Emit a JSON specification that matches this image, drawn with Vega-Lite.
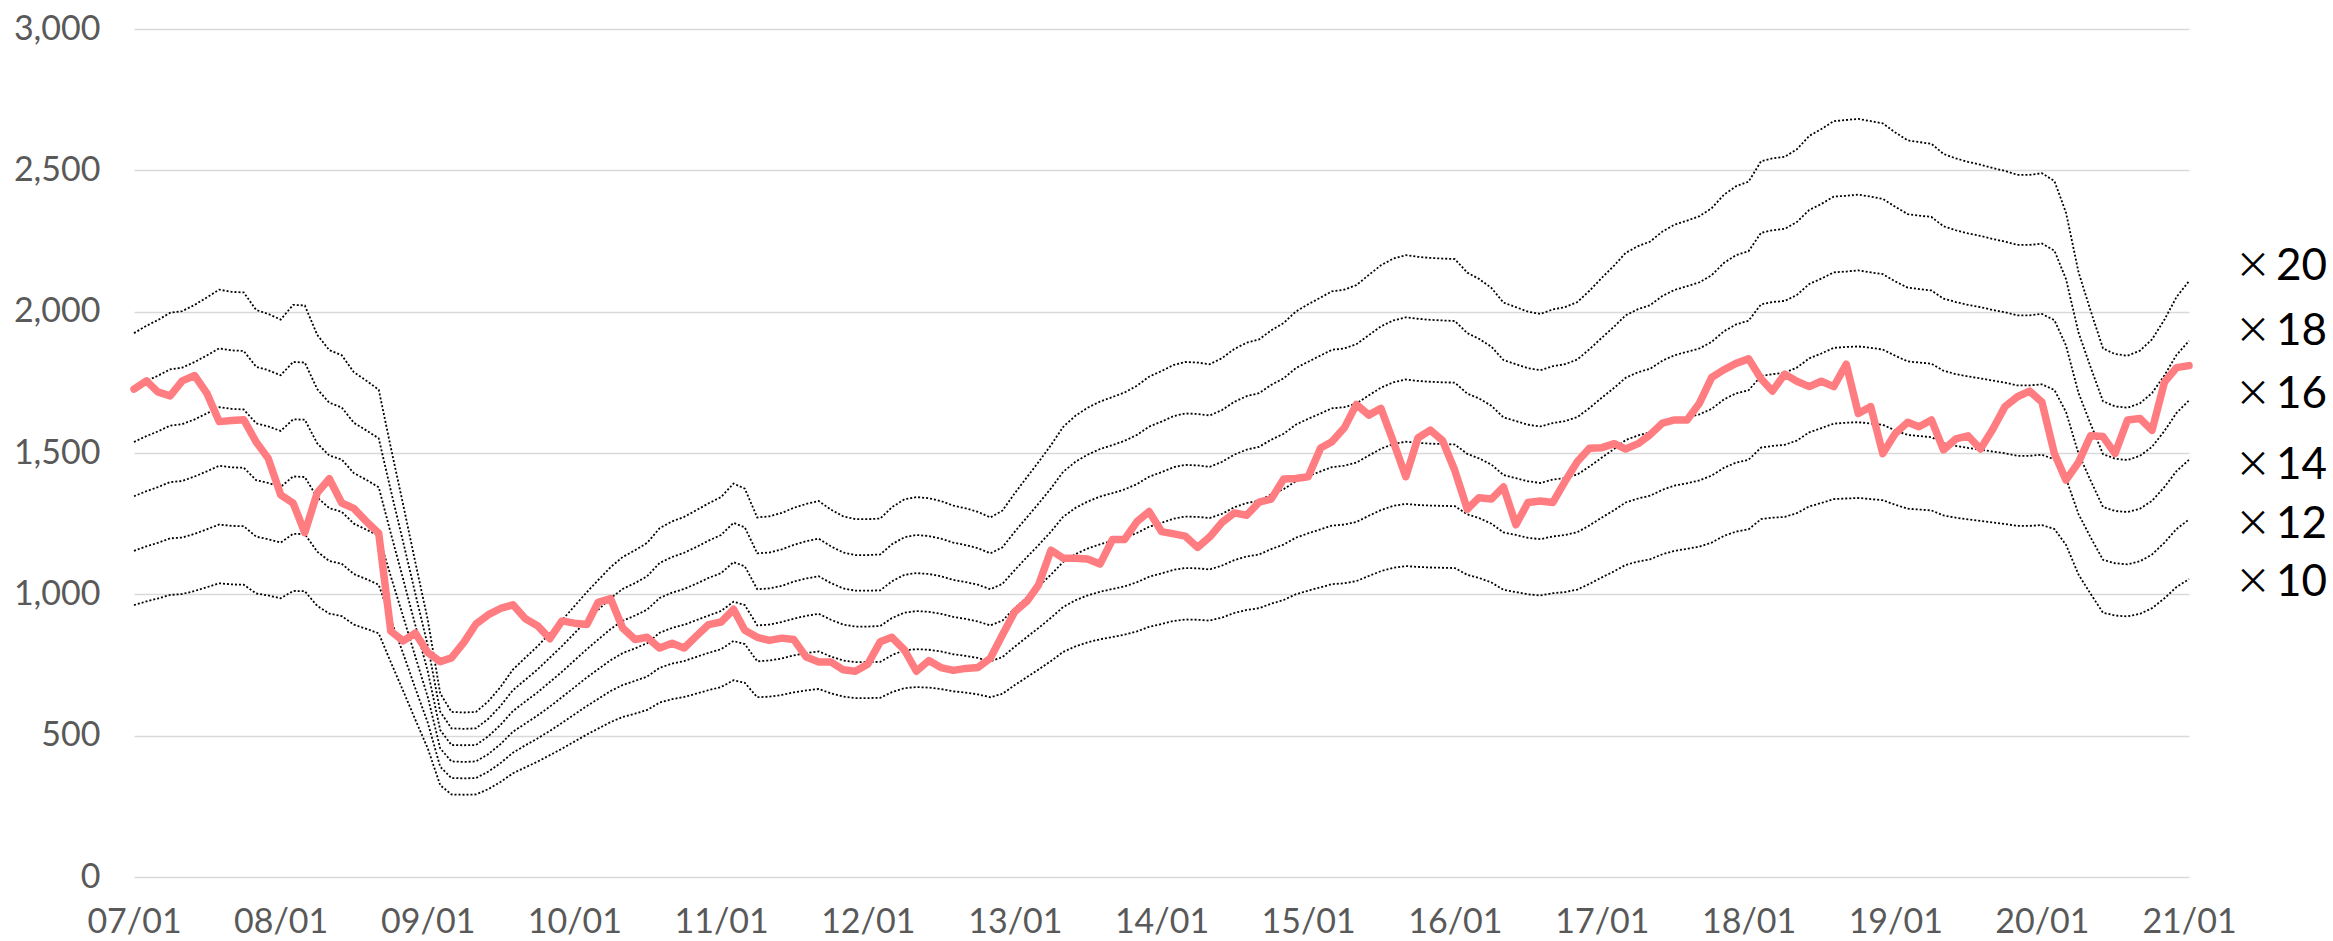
{
"$schema": "https://vega.github.io/schema/vega-lite/v6.json",
"width": 2055, "height": 848,
"autosize": {"type": "none"},
"padding": {"left": 134, "top": 29, "right": 144, "bottom": 64},
"background": "white",
"config": {"view": {"stroke": null}, "font": "Lato"},
"datasets": {
"main": [
{"d":"2007-01","p":1726,"x10":962,"x12":1154,"x14":1347,"x16":1539,"x18":1732,"x20":1924},
{"d":"2007-02","p":1755,"x10":975,"x12":1170,"x14":1365,"x16":1560,"x18":1755,"x20":1950},
{"d":"2007-03","p":1716,"x10":985,"x12":1182,"x14":1379,"x16":1576,"x18":1773,"x20":1970},
{"d":"2007-04","p":1702,"x10":998,"x12":1198,"x14":1397,"x16":1597,"x18":1796,"x20":1996},
{"d":"2007-05","p":1755,"x10":1001,"x12":1201,"x14":1401,"x16":1602,"x18":1802,"x20":2002},
{"d":"2007-06","p":1774,"x10":1012,"x12":1214,"x14":1417,"x16":1619,"x18":1822,"x20":2024},
{"d":"2007-07","p":1712,"x10":1025,"x12":1230,"x14":1435,"x16":1640,"x18":1845,"x20":2050},
{"d":"2007-08","p":1611,"x10":1039,"x12":1247,"x14":1455,"x16":1662,"x18":1870,"x20":2078},
{"d":"2007-09","p":1615,"x10":1035,"x12":1242,"x14":1449,"x16":1656,"x18":1863,"x20":2070},
{"d":"2007-10","p":1618,"x10":1034,"x12":1241,"x14":1448,"x16":1654,"x18":1861,"x20":2068},
{"d":"2007-11","p":1539,"x10":1003,"x12":1204,"x14":1404,"x16":1605,"x18":1805,"x20":2006},
{"d":"2007-12","p":1481,"x10":996,"x12":1195,"x14":1394,"x16":1594,"x18":1793,"x20":1992},
{"d":"2008-01","p":1352,"x10":986,"x12":1183,"x14":1380,"x16":1578,"x18":1775,"x20":1972},
{"d":"2008-02","p":1323,"x10":1012,"x12":1214,"x14":1417,"x16":1619,"x18":1822,"x20":2024},
{"d":"2008-03","p":1218,"x10":1011,"x12":1213,"x14":1415,"x16":1618,"x18":1820,"x20":2022},
{"d":"2008-04","p":1359,"x10":959,"x12":1151,"x14":1343,"x16":1534,"x18":1726,"x20":1918},
{"d":"2008-05","p":1409,"x10":932,"x12":1118,"x14":1305,"x16":1491,"x18":1678,"x20":1864},
{"d":"2008-06","p":1323,"x10":923,"x12":1108,"x14":1292,"x16":1477,"x18":1661,"x20":1846},
{"d":"2008-07","p":1304,"x10":893,"x12":1072,"x14":1250,"x16":1429,"x18":1607,"x20":1786},
{"d":"2008-08","p":1258,"x10":878,"x12":1054,"x14":1229,"x16":1405,"x18":1580,"x20":1756},
{"d":"2008-09","p":1216,"x10":862,"x12":1034,"x14":1207,"x16":1379,"x18":1552,"x20":1724},
{"d":"2008-10","p":870,"x10":760,"x12":912,"x14":1064,"x16":1216,"x18":1368,"x20":1520},
{"d":"2008-11","p":835,"x10":658,"x12":790,"x14":921,"x16":1053,"x18":1184,"x20":1316},
{"d":"2008-12","p":863,"x10":557,"x12":668,"x14":780,"x16":891,"x18":1003,"x20":1114},
{"d":"2009-01","p":794,"x10":455,"x12":546,"x14":637,"x16":728,"x18":819,"x20":910},
{"d":"2009-02","p":762,"x10":325,"x12":390,"x14":455,"x16":520,"x18":585,"x20":650},
{"d":"2009-03","p":775,"x10":292,"x12":350,"x14":409,"x16":467,"x18":526,"x20":584},
{"d":"2009-04","p":830,"x10":291,"x12":349,"x14":407,"x16":466,"x18":524,"x20":582},
{"d":"2009-05","p":895,"x10":292,"x12":350,"x14":409,"x16":467,"x18":526,"x20":584},
{"d":"2009-06","p":928,"x10":311,"x12":373,"x14":435,"x16":498,"x18":560,"x20":622},
{"d":"2009-07","p":950,"x10":336,"x12":403,"x14":470,"x16":538,"x18":605,"x20":672},
{"d":"2009-08","p":963,"x10":367,"x12":440,"x14":514,"x16":587,"x18":661,"x20":734},
{"d":"2009-09","p":914,"x10":388,"x12":466,"x14":543,"x16":621,"x18":698,"x20":776},
{"d":"2009-10","p":889,"x10":408,"x12":490,"x14":571,"x16":653,"x18":734,"x20":816},
{"d":"2009-11","p":843,"x10":431,"x12":517,"x14":603,"x16":690,"x18":776,"x20":862},
{"d":"2009-12","p":906,"x10":454,"x12":545,"x14":636,"x16":726,"x18":817,"x20":908},
{"d":"2010-01","p":898,"x10":479,"x12":575,"x14":671,"x16":766,"x18":862,"x20":958},
{"d":"2010-02","p":893,"x10":504,"x12":605,"x14":706,"x16":806,"x18":907,"x20":1008},
{"d":"2010-03","p":972,"x10":525,"x12":630,"x14":735,"x16":840,"x18":945,"x20":1050},
{"d":"2010-04","p":985,"x10":548,"x12":658,"x14":767,"x16":877,"x18":986,"x20":1096},
{"d":"2010-05","p":881,"x10":566,"x12":679,"x14":792,"x16":906,"x18":1019,"x20":1132},
{"d":"2010-06","p":840,"x10":578,"x12":694,"x14":809,"x16":925,"x18":1040,"x20":1156},
{"d":"2010-07","p":848,"x10":591,"x12":709,"x14":827,"x16":946,"x18":1064,"x20":1182},
{"d":"2010-08","p":810,"x10":617,"x12":740,"x14":864,"x16":987,"x18":1111,"x20":1234},
{"d":"2010-09","p":827,"x10":629,"x12":755,"x14":881,"x16":1006,"x18":1132,"x20":1258},
{"d":"2010-10","p":810,"x10":637,"x12":764,"x14":892,"x16":1019,"x18":1147,"x20":1274},
{"d":"2010-11","p":853,"x10":649,"x12":779,"x14":909,"x16":1038,"x18":1168,"x20":1298},
{"d":"2010-12","p":893,"x10":661,"x12":793,"x14":925,"x16":1058,"x18":1190,"x20":1322},
{"d":"2011-01","p":902,"x10":672,"x12":806,"x14":941,"x16":1075,"x18":1210,"x20":1344},
{"d":"2011-02","p":947,"x10":696,"x12":835,"x14":974,"x16":1114,"x18":1253,"x20":1392},
{"d":"2011-03","p":873,"x10":687,"x12":824,"x14":962,"x16":1099,"x18":1237,"x20":1374},
{"d":"2011-04","p":848,"x10":636,"x12":763,"x14":890,"x16":1018,"x18":1145,"x20":1272},
{"d":"2011-05","p":837,"x10":638,"x12":766,"x14":893,"x16":1021,"x18":1148,"x20":1276},
{"d":"2011-06","p":845,"x10":644,"x12":773,"x14":902,"x16":1030,"x18":1159,"x20":1288},
{"d":"2011-07","p":840,"x10":653,"x12":784,"x14":914,"x16":1045,"x18":1175,"x20":1306},
{"d":"2011-08","p":778,"x10":660,"x12":792,"x14":924,"x16":1056,"x18":1188,"x20":1320},
{"d":"2011-09","p":761,"x10":665,"x12":798,"x14":931,"x16":1064,"x18":1197,"x20":1330},
{"d":"2011-10","p":761,"x10":650,"x12":780,"x14":910,"x16":1040,"x18":1170,"x20":1300},
{"d":"2011-11","p":733,"x10":638,"x12":766,"x14":893,"x16":1021,"x18":1148,"x20":1276},
{"d":"2011-12","p":728,"x10":633,"x12":760,"x14":886,"x16":1013,"x18":1139,"x20":1266},
{"d":"2012-01","p":753,"x10":633,"x12":760,"x14":886,"x16":1013,"x18":1139,"x20":1266},
{"d":"2012-02","p":832,"x10":634,"x12":761,"x14":888,"x16":1014,"x18":1141,"x20":1268},
{"d":"2012-03","p":848,"x10":654,"x12":785,"x14":916,"x16":1046,"x18":1177,"x20":1308},
{"d":"2012-04","p":804,"x10":668,"x12":802,"x14":935,"x16":1069,"x18":1202,"x20":1336},
{"d":"2012-05","p":728,"x10":672,"x12":806,"x14":941,"x16":1075,"x18":1210,"x20":1344},
{"d":"2012-06","p":766,"x10":670,"x12":804,"x14":938,"x16":1072,"x18":1206,"x20":1340},
{"d":"2012-07","p":741,"x10":665,"x12":798,"x14":931,"x16":1064,"x18":1197,"x20":1330},
{"d":"2012-08","p":731,"x10":657,"x12":788,"x14":920,"x16":1051,"x18":1183,"x20":1314},
{"d":"2012-09","p":738,"x10":652,"x12":782,"x14":913,"x16":1043,"x18":1174,"x20":1304},
{"d":"2012-10","p":741,"x10":646,"x12":775,"x14":904,"x16":1034,"x18":1163,"x20":1292},
{"d":"2012-11","p":774,"x10":636,"x12":763,"x14":890,"x16":1018,"x18":1145,"x20":1272},
{"d":"2012-12","p":856,"x10":648,"x12":778,"x14":907,"x16":1037,"x18":1166,"x20":1296},
{"d":"2013-01","p":939,"x10":679,"x12":815,"x14":951,"x16":1086,"x18":1222,"x20":1358},
{"d":"2013-02","p":977,"x10":708,"x12":850,"x14":991,"x16":1133,"x18":1274,"x20":1416},
{"d":"2013-03","p":1033,"x10":734,"x12":881,"x14":1028,"x16":1174,"x18":1321,"x20":1468},
{"d":"2013-04","p":1156,"x10":764,"x12":917,"x14":1070,"x16":1222,"x18":1375,"x20":1528},
{"d":"2013-05","p":1128,"x10":796,"x12":955,"x14":1114,"x16":1274,"x18":1433,"x20":1592},
{"d":"2013-06","p":1128,"x10":816,"x12":979,"x14":1142,"x16":1306,"x18":1469,"x20":1632},
{"d":"2013-07","p":1125,"x10":830,"x12":996,"x14":1162,"x16":1328,"x18":1494,"x20":1660},
{"d":"2013-08","p":1107,"x10":841,"x12":1009,"x14":1177,"x16":1346,"x18":1514,"x20":1682},
{"d":"2013-09","p":1194,"x10":849,"x12":1019,"x14":1189,"x16":1358,"x18":1528,"x20":1698},
{"d":"2013-10","p":1194,"x10":857,"x12":1028,"x14":1200,"x16":1371,"x18":1543,"x20":1714},
{"d":"2013-11","p":1257,"x10":869,"x12":1043,"x14":1217,"x16":1390,"x18":1564,"x20":1738},
{"d":"2013-12","p":1293,"x10":885,"x12":1062,"x14":1239,"x16":1416,"x18":1593,"x20":1770},
{"d":"2014-01","p":1222,"x10":895,"x12":1074,"x14":1253,"x16":1432,"x18":1611,"x20":1790},
{"d":"2014-02","p":1214,"x10":906,"x12":1087,"x14":1268,"x16":1450,"x18":1631,"x20":1812},
{"d":"2014-03","p":1206,"x10":911,"x12":1093,"x14":1275,"x16":1458,"x18":1640,"x20":1822},
{"d":"2014-04","p":1166,"x10":910,"x12":1092,"x14":1274,"x16":1456,"x18":1638,"x20":1820},
{"d":"2014-05","p":1203,"x10":907,"x12":1088,"x14":1270,"x16":1451,"x18":1633,"x20":1814},
{"d":"2014-06","p":1255,"x10":918,"x12":1102,"x14":1285,"x16":1469,"x18":1652,"x20":1836},
{"d":"2014-07","p":1288,"x10":934,"x12":1121,"x14":1308,"x16":1494,"x18":1681,"x20":1868},
{"d":"2014-08","p":1280,"x10":945,"x12":1134,"x14":1323,"x16":1512,"x18":1701,"x20":1890},
{"d":"2014-09","p":1326,"x10":951,"x12":1141,"x14":1331,"x16":1522,"x18":1712,"x20":1902},
{"d":"2014-10","p":1337,"x10":967,"x12":1160,"x14":1354,"x16":1547,"x18":1741,"x20":1934},
{"d":"2014-11","p":1408,"x10":980,"x12":1176,"x14":1372,"x16":1568,"x18":1764,"x20":1960},
{"d":"2014-12","p":1410,"x10":1000,"x12":1200,"x14":1400,"x16":1600,"x18":1800,"x20":2000},
{"d":"2015-01","p":1416,"x10":1013,"x12":1216,"x14":1418,"x16":1621,"x18":1823,"x20":2026},
{"d":"2015-02","p":1518,"x10":1025,"x12":1230,"x14":1435,"x16":1640,"x18":1845,"x20":2050},
{"d":"2015-03","p":1540,"x10":1036,"x12":1243,"x14":1450,"x16":1658,"x18":1865,"x20":2072},
{"d":"2015-04","p":1589,"x10":1039,"x12":1247,"x14":1455,"x16":1662,"x18":1870,"x20":2078},
{"d":"2015-05","p":1672,"x10":1047,"x12":1256,"x14":1466,"x16":1675,"x18":1885,"x20":2094},
{"d":"2015-06","p":1634,"x10":1065,"x12":1278,"x14":1491,"x16":1704,"x18":1917,"x20":2130},
{"d":"2015-07","p":1658,"x10":1082,"x12":1298,"x14":1515,"x16":1731,"x18":1948,"x20":2164},
{"d":"2015-08","p":1540,"x10":1094,"x12":1313,"x14":1532,"x16":1750,"x18":1969,"x20":2188},
{"d":"2015-09","p":1416,"x10":1100,"x12":1320,"x14":1540,"x16":1760,"x18":1980,"x20":2200},
{"d":"2015-10","p":1553,"x10":1097,"x12":1316,"x14":1536,"x16":1755,"x18":1975,"x20":2194},
{"d":"2015-11","p":1581,"x10":1095,"x12":1314,"x14":1533,"x16":1752,"x18":1971,"x20":2190},
{"d":"2015-12","p":1545,"x10":1094,"x12":1313,"x14":1532,"x16":1750,"x18":1969,"x20":2188},
{"d":"2016-01","p":1438,"x10":1093,"x12":1312,"x14":1530,"x16":1749,"x18":1967,"x20":2186},
{"d":"2016-02","p":1301,"x10":1069,"x12":1283,"x14":1497,"x16":1710,"x18":1924,"x20":2138},
{"d":"2016-03","p":1342,"x10":1058,"x12":1270,"x14":1481,"x16":1693,"x18":1904,"x20":2116},
{"d":"2016-04","p":1337,"x10":1042,"x12":1250,"x14":1459,"x16":1667,"x18":1876,"x20":2084},
{"d":"2016-05","p":1380,"x10":1016,"x12":1219,"x14":1422,"x16":1626,"x18":1829,"x20":2032},
{"d":"2016-06","p":1246,"x10":1008,"x12":1210,"x14":1411,"x16":1613,"x18":1814,"x20":2016},
{"d":"2016-07","p":1325,"x10":1000,"x12":1200,"x14":1400,"x16":1600,"x18":1800,"x20":2000},
{"d":"2016-08","p":1330,"x10":996,"x12":1195,"x14":1394,"x16":1594,"x18":1793,"x20":1992},
{"d":"2016-09","p":1325,"x10":1004,"x12":1205,"x14":1406,"x16":1606,"x18":1807,"x20":2008},
{"d":"2016-10","p":1399,"x10":1008,"x12":1210,"x14":1411,"x16":1613,"x18":1814,"x20":2016},
{"d":"2016-11","p":1470,"x10":1017,"x12":1220,"x14":1424,"x16":1627,"x18":1831,"x20":2034},
{"d":"2016-12","p":1517,"x10":1037,"x12":1244,"x14":1452,"x16":1659,"x18":1867,"x20":2074},
{"d":"2017-01","p":1519,"x10":1060,"x12":1272,"x14":1484,"x16":1696,"x18":1908,"x20":2120},
{"d":"2017-02","p":1533,"x10":1082,"x12":1298,"x14":1515,"x16":1731,"x18":1948,"x20":2164},
{"d":"2017-03","p":1514,"x10":1104,"x12":1325,"x14":1546,"x16":1766,"x18":1987,"x20":2208},
{"d":"2017-04","p":1533,"x10":1116,"x12":1339,"x14":1562,"x16":1786,"x18":2009,"x20":2232},
{"d":"2017-05","p":1565,"x10":1124,"x12":1349,"x14":1574,"x16":1798,"x18":2023,"x20":2248},
{"d":"2017-06","p":1606,"x10":1142,"x12":1370,"x14":1599,"x16":1827,"x18":2056,"x20":2284},
{"d":"2017-07","p":1617,"x10":1154,"x12":1385,"x14":1616,"x16":1846,"x18":2077,"x20":2308},
{"d":"2017-08","p":1617,"x10":1161,"x12":1393,"x14":1625,"x16":1858,"x18":2090,"x20":2322},
{"d":"2017-09","p":1677,"x10":1169,"x12":1403,"x14":1637,"x16":1870,"x18":2104,"x20":2338},
{"d":"2017-10","p":1767,"x10":1183,"x12":1420,"x14":1656,"x16":1893,"x18":2129,"x20":2366},
{"d":"2017-11","p":1795,"x10":1207,"x12":1448,"x14":1690,"x16":1931,"x18":2173,"x20":2414},
{"d":"2017-12","p":1817,"x10":1222,"x12":1466,"x14":1711,"x16":1955,"x18":2200,"x20":2444},
{"d":"2018-01","p":1833,"x10":1230,"x12":1476,"x14":1722,"x16":1968,"x18":2214,"x20":2460},
{"d":"2018-02","p":1763,"x10":1266,"x12":1519,"x14":1772,"x16":2026,"x18":2279,"x20":2532},
{"d":"2018-03","p":1719,"x10":1271,"x12":1525,"x14":1779,"x16":2034,"x18":2288,"x20":2542},
{"d":"2018-04","p":1779,"x10":1274,"x12":1529,"x14":1784,"x16":2038,"x18":2293,"x20":2548},
{"d":"2018-05","p":1754,"x10":1287,"x12":1544,"x14":1802,"x16":2059,"x18":2317,"x20":2574},
{"d":"2018-06","p":1735,"x10":1311,"x12":1573,"x14":1835,"x16":2098,"x18":2360,"x20":2622},
{"d":"2018-07","p":1754,"x10":1323,"x12":1588,"x14":1852,"x16":2117,"x18":2381,"x20":2646},
{"d":"2018-08","p":1735,"x10":1337,"x12":1604,"x14":1872,"x16":2139,"x18":2407,"x20":2674},
{"d":"2018-09","p":1814,"x10":1339,"x12":1607,"x14":1875,"x16":2142,"x18":2410,"x20":2678},
{"d":"2018-10","p":1640,"x10":1341,"x12":1609,"x14":1877,"x16":2146,"x18":2414,"x20":2682},
{"d":"2018-11","p":1664,"x10":1337,"x12":1604,"x14":1872,"x16":2139,"x18":2407,"x20":2674},
{"d":"2018-12","p":1498,"x10":1333,"x12":1600,"x14":1866,"x16":2133,"x18":2399,"x20":2666},
{"d":"2019-01","p":1569,"x10":1317,"x12":1580,"x14":1844,"x16":2107,"x18":2371,"x20":2634},
{"d":"2019-02","p":1609,"x10":1303,"x12":1564,"x14":1824,"x16":2085,"x18":2345,"x20":2606},
{"d":"2019-03","p":1593,"x10":1300,"x12":1560,"x14":1820,"x16":2080,"x18":2340,"x20":2600},
{"d":"2019-04","p":1617,"x10":1297,"x12":1556,"x14":1816,"x16":2075,"x18":2335,"x20":2594},
{"d":"2019-05","p":1511,"x10":1279,"x12":1535,"x14":1791,"x16":2046,"x18":2302,"x20":2558},
{"d":"2019-06","p":1550,"x10":1271,"x12":1525,"x14":1779,"x16":2034,"x18":2288,"x20":2542},
{"d":"2019-07","p":1561,"x10":1265,"x12":1518,"x14":1771,"x16":2024,"x18":2277,"x20":2530},
{"d":"2019-08","p":1514,"x10":1260,"x12":1512,"x14":1764,"x16":2016,"x18":2268,"x20":2520},
{"d":"2019-09","p":1585,"x10":1254,"x12":1505,"x14":1756,"x16":2006,"x18":2257,"x20":2508},
{"d":"2019-10","p":1664,"x10":1249,"x12":1499,"x14":1749,"x16":1998,"x18":2248,"x20":2498},
{"d":"2019-11","p":1699,"x10":1242,"x12":1490,"x14":1739,"x16":1987,"x18":2236,"x20":2484},
{"d":"2019-12","p":1719,"x10":1242,"x12":1490,"x14":1739,"x16":1987,"x18":2236,"x20":2484},
{"d":"2020-01","p":1680,"x10":1245,"x12":1494,"x14":1743,"x16":1992,"x18":2241,"x20":2490},
{"d":"2020-02","p":1498,"x10":1231,"x12":1477,"x14":1723,"x16":1970,"x18":2216,"x20":2462},
{"d":"2020-03","p":1404,"x10":1175,"x12":1410,"x14":1645,"x16":1880,"x18":2115,"x20":2350},
{"d":"2020-04","p":1467,"x10":1070,"x12":1284,"x14":1498,"x16":1712,"x18":1926,"x20":2140},
{"d":"2020-05","p":1561,"x10":1002,"x12":1202,"x14":1403,"x16":1603,"x18":1804,"x20":2004},
{"d":"2020-06","p":1558,"x10":935,"x12":1122,"x14":1309,"x16":1496,"x18":1683,"x20":1870},
{"d":"2020-07","p":1498,"x10":925,"x12":1110,"x14":1295,"x16":1480,"x18":1665,"x20":1850},
{"d":"2020-08","p":1617,"x10":922,"x12":1106,"x14":1291,"x16":1475,"x18":1660,"x20":1844},
{"d":"2020-09","p":1622,"x10":931,"x12":1117,"x14":1303,"x16":1490,"x18":1676,"x20":1862},
{"d":"2020-10","p":1580,"x10":951,"x12":1141,"x14":1331,"x16":1522,"x18":1712,"x20":1902},
{"d":"2020-11","p":1751,"x10":986,"x12":1183,"x14":1380,"x16":1578,"x18":1775,"x20":1972},
{"d":"2020-12","p":1802,"x10":1026,"x12":1231,"x14":1436,"x16":1642,"x18":1847,"x20":2052},
{"d":"2021-01","p":1809,"x10":1054,"x12":1265,"x14":1476,"x16":1686,"x18":1897,"x20":2108}
],
"labels": [
{"d":"2021-01","v":2159,"n":"20"},
{"d":"2021-01","v":1929,"n":"18"},
{"d":"2021-01","v":1705,"n":"16"},
{"d":"2021-01","v":1455,"n":"14"},
{"d":"2021-01","v":1245,"n":"12"},
{"d":"2021-01","v":1039,"n":"10"}
]
},
"encoding": {
"x": {"field": "d", "type": "temporal",
"scale": {"type": "utc", "domain": [{"year":2007,"month":1,"date":1,"utc":true},{"year":2021,"month":1,"date":1,"utc":true}]},
"axis": {"values": [
{"year":2007,"month":1,"date":1,"utc":true},{"year":2008,"month":1,"date":1,"utc":true},{"year":2009,"month":1,"date":1,"utc":true},{"year":2010,"month":1,"date":1,"utc":true},{"year":2011,"month":1,"date":1,"utc":true},{"year":2012,"month":1,"date":1,"utc":true},{"year":2013,"month":1,"date":1,"utc":true},{"year":2014,"month":1,"date":1,"utc":true},{"year":2015,"month":1,"date":1,"utc":true},{"year":2016,"month":1,"date":1,"utc":true},{"year":2017,"month":1,"date":1,"utc":true},{"year":2018,"month":1,"date":1,"utc":true},{"year":2019,"month":1,"date":1,"utc":true},{"year":2020,"month":1,"date":1,"utc":true},{"year":2021,"month":1,"date":1,"utc":true}],
"labelExpr": "utcFormat(datum.value, '%y/%m')", "grid": false, "ticks": false, "domain": false,
"labelFont": "Lato", "labelFontSize": 34, "labelColor": "#595959", "labelPadding": 28, "labelFlush": false, "labelOverlap": false, "title": null}},
"y": {"field": "v", "type": "quantitative",
"scale": {"domain": [0, 3000], "nice": false, "zero": true},
"axis": {"values": [0,500,1000,1500,2000,2500,3000], "format": ",.0f", "grid": true, "gridColor": "#d9d9d9", "gridWidth": 1.5, "ticks": false, "domain": false,
"labelFont": "Lato", "labelFontSize": 34, "labelColor": "#595959", "labelPadding": 34, "title": null}}
},
"layer": [
{
"data": {"name": "main"},
"transform": [{"fold": ["x10","x12","x14","x16","x18","x20"], "as": ["k","v"]}],
"mark": {"type": "line", "color": "#000000", "strokeWidth": 1.8, "strokeDash": [2,2]},
"encoding": {"detail": {"field": "k"}}
},
{
"data": {"name": "main"},
"transform": [{"fold": ["p"], "as": ["k","v"]}],
"mark": {"type": "line", "color": "#ff7c80", "strokeWidth": 7.5, "strokeJoin": "round", "strokeCap": "round"},
"encoding": {}
},
{
"data": {"name": "labels"},
"mark": {"type": "text", "align": "left", "baseline": "middle", "dx": 46, "font": "Noto Sans CJK JP", "fontSize": 36, "color": "#000000"},
"encoding": {"text": {"value": "×"}}
},
{
"data": {"name": "labels"},
"mark": {"type": "text", "align": "left", "baseline": "middle", "dx": 87, "font": "Lato", "fontSize": 44, "color": "#000000"},
"encoding": {"text": {"field": "n"}}
}
]
}
